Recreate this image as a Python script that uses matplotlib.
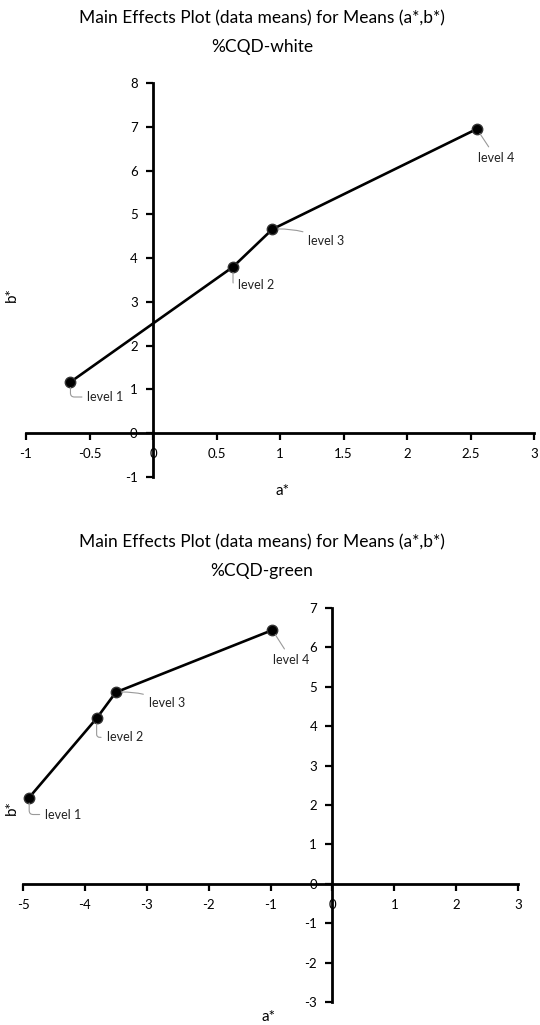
import matplotlib.pyplot as plt
import matplotlib.ticker as mticker

plt.rcParams['font.family'] = ['Lato', 'DejaVu Sans']
plt.rcParams['axes.unicode_minus'] = False

# mean (a*, b*) per level
levels = ['level 1', 'level 2', 'level 3', 'level 4']
white_a = [-0.65, 0.63, 0.94, 2.55]
white_b = [1.17, 3.80, 4.66, 6.95]
green_a = [-4.90, -3.81, -3.50, -0.97]
green_b = [2.19, 4.20, 4.86, 6.44]

white_xticks = [-1, -0.5, 0, 0.5, 1, 1.5, 2, 2.5, 3]
white_yticks = list(range(-1, 9))
green_xticks = list(range(-5, 4))
green_yticks = list(range(-3, 8))

# label offsets in pixels (x right, y down) and leader shapes
white_offsets = [(17, 15), (5, 18), (36, 12), (1, 29)]
green_offsets = [(16, 17), (10, 19), (33, 11), (1, 30)]
leaders = ['angle,angleA=0,angleB=90,rad=4',
           'angle,angleA=0,angleB=90,rad=3',
           'arc3,rad=0.15',
           'arc3,rad=0']

W, H = 540, 1025
fig = plt.figure(figsize=(W / 100, H / 100), dpi=100)
fmt = mticker.FuncFormatter(lambda v, p: f'{v:g}')


def draw_panel(rect, a, b, xticks, yticks, offsets, xlab_pos, ylab_pos):
    ax = fig.add_axes(rect)
    ax.plot(a, b, color='black', lw=1.9, marker='o', ms=7.5,
            mfc='black', mec='#333333', mew=1, zorder=3)
    for name, x, y, (dx, dy), cs in zip(levels, a, b, offsets, leaders):
        ax.annotate(name, xy=(x, y), xytext=(dx, -dy), textcoords='offset pixels',
                    ha='left', va='center', fontsize=9, color='#222222',
                    arrowprops=dict(arrowstyle='-', color='#999999', lw=0.8,
                                    shrinkA=2, shrinkB=4, connectionstyle=cs))
    ax.set_xlim(xticks[0], xticks[-1])
    ax.set_ylim(yticks[0], yticks[-1])
    ax.spines['left'].set_position(('data', 0))
    ax.spines['bottom'].set_position(('data', 0))
    ax.spines['top'].set_visible(False)
    ax.spines['right'].set_visible(False)
    for s in ('left', 'bottom'):
        ax.spines[s].set_linewidth(2)
    ax.xaxis.set_major_locator(mticker.FixedLocator(xticks))
    ax.yaxis.set_major_locator(mticker.FixedLocator(yticks))
    ax.xaxis.set_major_formatter(fmt)
    ax.yaxis.set_major_formatter(fmt)
    ax.tick_params(axis='both', direction='out', length=5, width=1.6,
                   labelsize=9.5, pad=6, colors='black')
    ax.patch.set_alpha(0)
    fig.text(xlab_pos[0] / W, 1 - xlab_pos[1] / H, 'a*', ha='center', va='center',
             fontsize=11)
    fig.text(ylab_pos[0] / W, 1 - ylab_pos[1] / H, 'b*', ha='center', va='center',
             fontsize=11, rotation=90)
    return ax


# top panel: %CQD-white
fig.text(262 / W, 1 - 18 / H, 'Main Effects Plot (data means) for Means (a*,b*)',
         ha='center', va='center', fontsize=12.5)
fig.text(262 / W, 1 - 47 / H, '%CQD-white', ha='center', va='center', fontsize=12.5)
draw_panel([26 / W, 1 - 477 / H, 508 / W, 394 / H], white_a, white_b,
           white_xticks, white_yticks, white_offsets, (282, 491), (12, 295))

# bottom panel: %CQD-green
fig.text(262 / W, 1 - 542 / H, 'Main Effects Plot (data means) for Means (a*,b*)',
         ha='center', va='center', fontsize=12.5)
fig.text(262 / W, 1 - 571 / H, '%CQD-green', ha='center', va='center', fontsize=12.5)
draw_panel([23 / W, 1 - 1002 / H, 495 / W, 394 / H], green_a, green_b,
           green_xticks, green_yticks, green_offsets, (268, 1017), (12, 808))

fig.savefig('out.png', dpi=100)
